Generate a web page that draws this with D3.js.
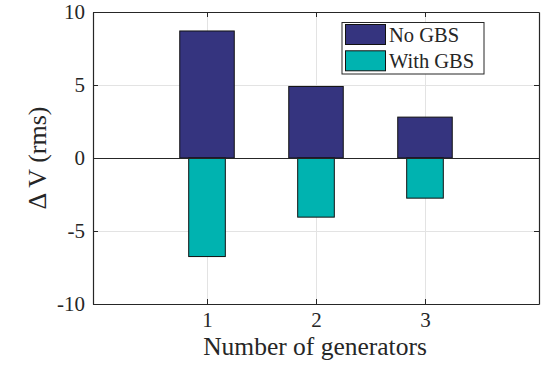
<!DOCTYPE html>
<html>
<head>
<meta charset="utf-8">
<script src="https://cdn.jsdelivr.net/npm/d3@7"></script>
<style>
  html, body { margin: 0; padding: 0; background: #fff; }
  svg { display: block; }
  svg text { font-family: "Liberation Serif", "Times New Roman", serif; }
</style>
</head>
<body>
<div id="chart"></div>
<script>
// data
const categories = [1, 2, 3];
const noGBS = [8.7, 4.9, 2.8];
const withGBS = [-6.75, -4.05, -2.75];
const seriesNames = ["No GBS", "With GBS"];
const yTicks = [-10, -5, 0, 5, 10];

const width = 551, height = 376;
const margin = { top: 12, right: 12, bottom: 72, left: 93 };
const ink = "#262626";
const colors = ["#35347f", "#00b3b0"];

const svg = d3.select("#chart").append("svg")
    .attr("width", width)
    .attr("height", height);

const x = d3.scaleLinear()
    .domain([-0.046, 4.046])
    .range([margin.left, width - margin.right]);

const y = d3.scaleLinear()
    .domain([-10, 10])
    .range([height - margin.bottom, margin.top]);

const x0 = margin.left, x1 = width - margin.right;
const y0 = height - margin.bottom, y1 = margin.top;

// grid
const grid = svg.append("g").attr("stroke", "#e3e3e3").attr("stroke-width", 1);
grid.selectAll(".gx").data(categories).enter().append("line")
    .attr("x1", d => Math.round(x(d)) + 0.5).attr("x2", d => Math.round(x(d)) + 0.5)
    .attr("y1", y1).attr("y2", y0);
grid.selectAll(".gy").data(yTicks).enter().append("line")
    .attr("x1", x0).attr("x2", x1)
    .attr("y1", d => Math.round(y(d)) + 0.5).attr("y2", d => Math.round(y(d)) + 0.5);

// bars
const bars = svg.append("g").attr("stroke", "#111").attr("stroke-width", 1);
bars.selectAll(".b1").data(categories).enter().append("rect")
    .attr("x", d => x(d - 0.25))
    .attr("width", x(0.5) - x(0))
    .attr("y", (d, i) => y(noGBS[i]))
    .attr("height", (d, i) => y(0) - y(noGBS[i]))
    .attr("fill", colors[0]);
bars.selectAll(".b2").data(categories).enter().append("rect")
    .attr("x", d => x(d - 0.168))
    .attr("width", x(0.336) - x(0))
    .attr("y", y(0))
    .attr("height", (d, i) => y(withGBS[i]) - y(0))
    .attr("fill", colors[1]);

// baseline at zero
svg.append("line")
    .attr("x1", x0).attr("x2", x1)
    .attr("y1", Math.round(y(0)) + 0.5).attr("y2", Math.round(y(0)) + 0.5)
    .attr("stroke", ink).attr("stroke-width", 1);

// axes (box with inward ticks on all sides)
const tickLen = 5;
const fmt = d => String(d);
const xAxis = svg.append("g").attr("transform", `translate(0,${y0})`)
    .call(d3.axisBottom(x).tickValues(categories).tickFormat(fmt)
        .tickSizeInner(-tickLen).tickSizeOuter(0).tickPadding(8));
const xAxisTop = svg.append("g").attr("transform", `translate(0,${y1})`)
    .call(d3.axisTop(x).tickValues(categories).tickSizeInner(-tickLen).tickSizeOuter(0).tickFormat(""));
const yAxis = svg.append("g").attr("transform", `translate(${x0},0)`)
    .call(d3.axisLeft(y).tickValues(yTicks).tickFormat(fmt)
        .tickSizeInner(-tickLen).tickSizeOuter(0).tickPadding(8));
const yAxisRight = svg.append("g").attr("transform", `translate(${x1},0)`)
    .call(d3.axisRight(y).tickValues(yTicks).tickSizeInner(-tickLen).tickSizeOuter(0).tickFormat(""));

[xAxis, xAxisTop, yAxis, yAxisRight].forEach(g => {
    g.attr("font-family", "'Liberation Serif', 'Times New Roman', serif").attr("font-size", 21);
    g.selectAll("path").attr("stroke", ink).attr("stroke-width", 1.2);
    g.selectAll("line").attr("stroke", ink);
    g.selectAll("text").attr("fill", ink);
});

// axis labels
svg.append("text")
    .attr("x", (x0 + x1) / 2 - 1)
    .attr("y", 355)
    .attr("text-anchor", "middle")
    .attr("fill", ink)
    .style("font-size", "25.5px")
    .text("Number of generators");

svg.append("text")
    .attr("transform", `translate(46,${(y0 + y1) / 2}) rotate(-90)`)
    .attr("text-anchor", "middle")
    .attr("fill", ink)
    .style("font-size", "26px")
    .text("Δ V (rms)");

// legend
const lg = svg.append("g");
lg.append("rect")
    .attr("x", 342).attr("y", 22.5)
    .attr("width", 142).attr("height", 51.5)
    .attr("fill", "#fff").attr("stroke", ink).attr("stroke-width", 1);
seriesNames.forEach((name, i) => {
    lg.append("rect")
        .attr("x", 345.5).attr("y", 24.5 + i * 26.3)
        .attr("width", 40).attr("height", 20)
        .attr("fill", colors[i]).attr("stroke", "#111");
    lg.append("text")
        .attr("x", 389).attr("y", 41.5 + i * 26.3)
        .attr("fill", ink)
        .style("font-size", "20.5px")
        .text(name);
});
</script>
</body>
</html>
